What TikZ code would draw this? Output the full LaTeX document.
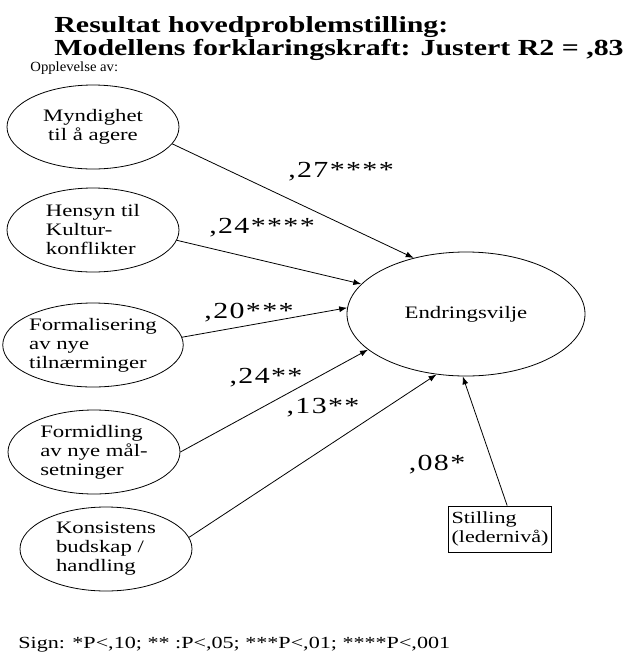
\documentclass[tikz,border=0pt]{standalone}
\usepackage{fontspec}
\setmainfont{Liberation Serif}[FakeStretch=1.3]
\usepackage{tikz}
\usetikzlibrary{arrows.meta,shapes.geometric}
\tikzset{
    factornode/.style={ellipse,draw=black,inner sep=0pt,align=left,minimum width=172pt,minimum height=84pt,font=\fontsize{17.5}{19}\selectfont},
    targetnode/.style={factornode,minimum width=238pt,minimum height=124pt},
    boxnode/.style={rectangle,draw=black,inner sep=1pt,align=left,minimum width=103pt,minimum height=46pt,font=\fontsize{17}{19}\selectfont},
    coeff/.style={inner sep=0pt,font=\fontsize{23}{25}\selectfont\addfontfeatures{LetterSpace=6}},
    headline/.style={anchor=west,inner sep=0pt,font=\fontsize{23}{26}\selectfont\bfseries},
    plaintext/.style={anchor=west,inner sep=0pt}
}

\begin{document}
\begin{tikzpicture}[x=1pt,y=-1pt,->,>={Latex[length=8pt,width=6pt]},thick]
\useasboundingbox (0,0) rectangle (625,657);

\node[headline] (T1) at (54,27) {Resultat hovedproblemstilling:};
\node[headline] (T2) at (54,50) {Modellens forklaringskraft: Justert R2 = ,83};
\node[plaintext,font=\fontsize{14}{16}\selectfont\addfontfeatures{FakeStretch=1.05}] (OP) at (30,68) {Opplevelse av:};

\node[factornode,align=center](MY) at (93,127) {Myndighet\\til å agere};
\node[factornode](HE) at (93,230) {Hensyn til\\Kultur-\\konflikter};
\node[factornode](FO) at (93,345) {Formalisering\\av nye\\tilnærminger};
\node[factornode](FM) at (94,452) {Formidling\\av nye mål-\\setninger};
\node[factornode](KO) at (106,549) {Konsistens\\budskap /\\handling};
\node[targetnode](EV) at (466,314) {Endringsvilje};
\node[boxnode](SL) at (500,529) {Stilling\\(ledernivå)};

\path
(MY.-12)   edge (EV.133)
(HE.-7)    edge (EV.164)
(FO.5)     edge (EV.177)
(FM.east)  edge (EV.200)
(KO.8)     edge (EV.-116)
(SL.73)    edge (EV.-93);

\node[coeff] (C1) at (341,172) {,27****};
\node[coeff] (C2) at (262,228) {,24****};
\node[coeff] (C3) at (249,313) {,20***};
\node[coeff] (C4) at (266,378) {,24**};
\node[coeff] (C5) at (323,408) {,13**};
\node[coeff] (C6) at (437,465) {,08*};

\node[plaintext,font=\fontsize{17}{19}\selectfont] (SG) at (18,645) {Sign: *P<,10; ** :P<,05; ***P<,01; ****P<,001};

\end{tikzpicture}
\end{document}
